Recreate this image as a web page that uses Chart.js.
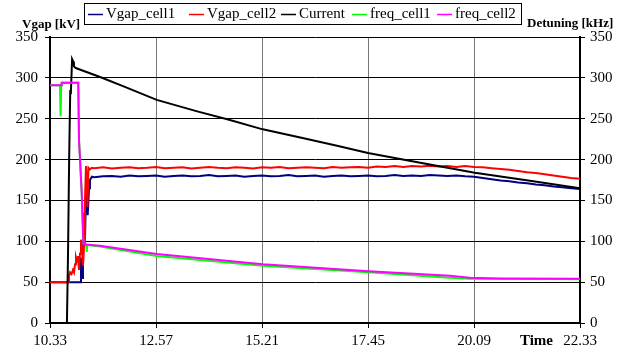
<!DOCTYPE html>
<html>
<head>
<meta charset="utf-8">
<script src="https://cdn.jsdelivr.net/npm/chart.js@4.4.0/dist/chart.umd.min.js"></script>
<style>
  html, body { margin: 0; padding: 0; background: #fff; }
</style>
</head>
<body>
<canvas id="chart" width="620" height="353"></canvas>
<script>
// time axis is in minutes after 10.33, labels every 144 min
const timeLabels = ['10.33', '12.57', '15.21', '17.45', '20.09', '22.33'];

// startup transients
const vgap1StartTime = [0, 40.8, 42.1, 43.5, 44.8, 46.2, 47.5, 48.9, 49.9, 51.2, 53, 54.3, 57];
const vgap1Start = [50, 50, 80, 55, 70, 135, 100, 160, 179, 132, 165, 175, 179];

const vgap2StartTime = [0, 24.5, 25.8, 27.2, 29.2, 31.2, 32.6, 34, 35.3, 36.7, 38, 39.4, 40.8, 42.1, 43.5, 44.8, 46.2, 47.5, 48.9, 50.3, 50.9, 52.3, 54.3, 57];
const vgap2Start = [50, 50, 58, 62, 60, 65, 62, 72, 80, 75, 82, 65, 85, 102, 90, 70, 95, 150, 192, 170, 142, 190, 188, 190];

// steady part of the gap voltages
const steadyTime = [60, 72, 84, 96, 108, 120, 132, 144, 156, 168, 180, 192, 204, 216, 228, 240, 252, 264, 276, 288,
  300, 312, 324, 336, 348, 360, 372, 384, 396, 408, 420, 432, 444, 456, 468, 480, 492, 504, 516, 528,
  540, 552, 564, 576, 588, 600, 612, 624, 636, 648, 660, 672, 684, 696, 708, 720];
const vgap1Steady = [178.5, 179.5, 180, 179, 180.5, 179.5, 180, 180.5, 179, 180, 180.5, 179.5, 180, 181, 179.5, 180, 180.5, 179, 180, 180.5,
  179.5, 180, 181, 179.5, 180, 180.5, 179, 180, 180.5, 179.5, 180, 180.5, 179.5, 180, 181, 180, 180.5, 180, 181, 180.5,
  180, 180.5, 179.5, 179, 177.5, 176, 174.5, 173.5, 172, 171, 169.5, 168.5, 167, 166, 165, 164];
const vgap2Steady = [189.5, 190.5, 189, 190, 190.5, 189.5, 190, 191, 189.5, 190, 190.5, 189, 190, 191, 190, 189.5, 190.5, 190, 189, 190.5,
  190, 191, 189.5, 190, 190.5, 190, 189.5, 191, 190, 190.5, 191, 190, 191.5, 191, 192, 191, 192, 191.5, 192.5, 191.5,
  192, 191, 192, 191, 190.5, 189.5, 188.5, 187.5, 186, 184.5, 183.5, 182, 180.5, 179, 177.5, 176.5];

const currentTime = [0, 23, 24.5, 26, 27.5, 28.3, 30, 31.5, 32.5, 35, 68, 100, 145, 200, 242, 289, 340, 390, 432, 503, 577, 652, 720];
const current = [0, 0, 85, 200, 285, 280, 323, 320, 314, 312, 301, 289.5, 273, 259, 249, 237, 227, 217, 208, 196, 184, 174, 165];

const freq1Time = [0, 13.6, 14.0, 14.8, 15.2, 15.9, 38.4, 39.4, 40.8, 43.1, 45.2, 47, 49.3, 49.9, 50.6, 68, 145, 289, 433, 543, 570, 720];
const freq1 = [291, 291, 253, 253, 291, 294, 294, 224, 200, 159, 100, 97, 96, 87, 95.5, 93.5, 82, 70, 62, 55.5, 54, 53.5];

const freq2Time = [0, 15.6, 15.9, 38.4, 39.4, 40.8, 43.1, 45.2, 46, 49, 68, 145, 289, 433, 543, 570, 611, 720];
const freq2 = [291, 291, 294, 294, 224, 200, 159, 102, 97, 96, 94.5, 84.5, 72, 63.4, 57.7, 55.5, 54.5, 54];

const toPoints = (xs, ys) => xs.map((x, i) => ({ x, y: ys[i] }));

const legendX = [88, 189, 281, 352, 437];

const overlay = {
  id: 'overlay',
  afterDraw(chart) {
    const ctx = chart.ctx;
    ctx.save();
    ctx.fillStyle = '#fff';
    ctx.fillRect(84.5, 3.5, 437, 21);
    ctx.strokeStyle = '#000';
    ctx.lineWidth = 1;
    ctx.strokeRect(84.5, 3.5, 437, 21);
    ctx.font = '15px "Liberation Serif"';
    ctx.textBaseline = 'middle';
    chart.data.datasets.forEach((ds, i) => {
      const x = legendX[i];
      ctx.strokeStyle = ds.borderColor;
      ctx.lineWidth = 1.5;
      ctx.beginPath();
      ctx.moveTo(x, 14.5);
      ctx.lineTo(x + 15, 14.5);
      ctx.stroke();
      ctx.fillStyle = '#000';
      ctx.fillText(ds.label, x + 18, 14.5);
    });
    // axis titles
    ctx.font = 'bold 13px "Liberation Serif"';
    ctx.fillText('Vgap [kV]', 22, 25);
    ctx.fillText('Detuning [kHz]', 527, 24);
    ctx.font = 'bold 15px "Liberation Serif"';
    ctx.textAlign = 'right';
    ctx.fillText('Time', 553, 341);
    ctx.restore();
  }
};

Chart.defaults.font.family = '"Liberation Serif", "Times New Roman", serif';
Chart.defaults.font.size = 15;
Chart.defaults.color = '#000';

new Chart(document.getElementById('chart'), {
  type: 'line',
  data: {
    datasets: [
      { label: 'Vgap_cell1', data: toPoints(vgap1StartTime.concat(steadyTime), vgap1Start.concat(vgap1Steady)), borderColor: '#000080', order: 5, yAxisID: 'y' },
      { label: 'Vgap_cell2', data: toPoints(vgap2StartTime.concat(steadyTime), vgap2Start.concat(vgap2Steady)), borderColor: '#ff0000', order: 4, yAxisID: 'y' },
      { label: 'Current', data: toPoints(currentTime, current), borderColor: '#000000', order: 3, yAxisID: 'y' },
      { label: 'freq_cell1', data: toPoints(freq1Time, freq1), borderColor: '#00ff00', order: 2, yAxisID: 'y2' },
      { label: 'freq_cell2', data: toPoints(freq2Time, freq2), borderColor: '#ff00ff', order: 1, yAxisID: 'y2' }
    ]
  },
  options: {
    responsive: false,
    animation: false,
    layout: { padding: { top: 37, left: 0, right: 0, bottom: 0 } },
    elements: {
      point: { radius: 0 },
      line: { borderWidth: 2, tension: 0 }
    },
    plugins: { legend: { display: false }, tooltip: { enabled: false } },
    scales: {
      x: {
        type: 'linear', min: 0, max: 720,
        afterFit(scale) { scale.height = 30; },
        ticks: { stepSize: 144, padding: 4, maxRotation: 0, callback: (v, i) => timeLabels[i] },
        grid: { color: '#777', tickColor: '#000', tickLength: 5 },
        border: { color: '#000', width: 2 }
      },
      y: {
        position: 'left', min: 0, max: 350,
        afterFit(scale) { scale.width = 50; },
        ticks: { stepSize: 50, padding: 7 },
        grid: { color: '#000', tickColor: '#000', tickLength: 5 },
        border: { color: '#000', width: 2 }
      },
      y2: {
        position: 'right', min: 0, max: 350,
        afterFit(scale) { scale.width = 40; },
        ticks: { stepSize: 50, padding: 5 },
        grid: { drawOnChartArea: false, tickColor: '#000', tickLength: 5 },
        border: { color: '#000', width: 2 }
      }
    }
  },
  plugins: [overlay]
});
</script>
</body>
</html>
